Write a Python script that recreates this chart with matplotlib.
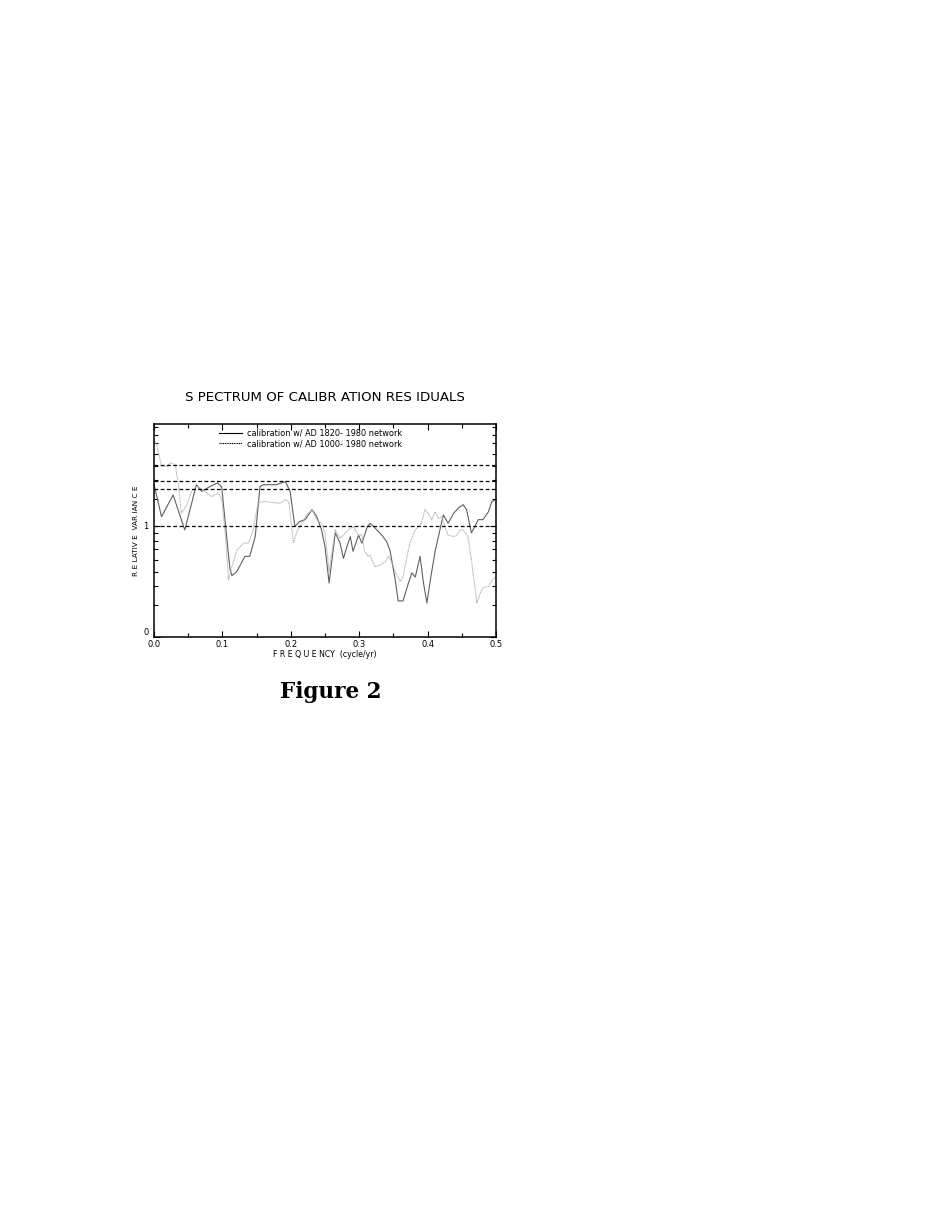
import matplotlib
matplotlib.use("Agg")
import matplotlib.pyplot as plt
from matplotlib.ticker import FixedLocator, NullFormatter

# spectrum of calibration residuals (log variance axis)
freq_1820 = [0.000, 0.011, 0.028, 0.045, 0.062, 0.070, 0.082, 0.093, 0.099, 0.111,
             0.114, 0.121, 0.133, 0.140, 0.148, 0.155, 0.160, 0.179, 0.192, 0.199,
             0.206, 0.213, 0.221, 0.231, 0.238, 0.245, 0.250, 0.256, 0.265, 0.272,
             0.277, 0.282, 0.287, 0.291, 0.299, 0.304, 0.312, 0.316, 0.323, 0.333,
             0.340, 0.345, 0.352, 0.357, 0.364, 0.372, 0.377, 0.382, 0.389, 0.394,
             0.399, 0.404, 0.411, 0.418, 0.423, 0.430, 0.438, 0.445, 0.452, 0.457,
             0.464, 0.469, 0.474, 0.481, 0.489, 0.494, 0.500]
var_1820 = [1.87, 1.15, 1.60, 0.94, 1.87, 1.69, 1.82, 1.92, 1.80, 0.52,
            0.47, 0.50, 0.63, 0.63, 0.85, 1.82, 1.87, 1.87, 1.96, 1.69,
            0.99, 1.07, 1.10, 1.28, 1.15, 0.94, 0.73, 0.42, 0.90, 0.77,
            0.61, 0.73, 0.85, 0.68, 0.87, 0.77, 0.99, 1.04, 0.97, 0.87,
            0.79, 0.69, 0.46, 0.32, 0.32, 0.42, 0.49, 0.46, 0.63, 0.42,
            0.31, 0.44, 0.68, 0.94, 1.18, 1.04, 1.21, 1.31, 1.38, 1.28,
            0.90, 0.99, 1.10, 1.10, 1.24, 1.45, 1.49]

freq_1000 = [0.000, 0.004, 0.011, 0.020, 0.023, 0.031, 0.036, 0.040, 0.048, 0.055,
             0.062, 0.072, 0.084, 0.094, 0.099, 0.104, 0.109, 0.114, 0.121, 0.131,
             0.138, 0.145, 0.152, 0.160, 0.184, 0.192, 0.197, 0.204, 0.209, 0.216,
             0.223, 0.231, 0.238, 0.245, 0.250, 0.256, 0.265, 0.272, 0.280, 0.284,
             0.291, 0.299, 0.304, 0.308, 0.313, 0.316, 0.323, 0.330, 0.338, 0.343,
             0.348, 0.355, 0.360, 0.364, 0.369, 0.374, 0.382, 0.386, 0.391, 0.396,
             0.401, 0.406, 0.411, 0.416, 0.421, 0.425, 0.430, 0.438, 0.443, 0.447,
             0.452, 0.459, 0.464, 0.469, 0.472, 0.477, 0.481, 0.489, 0.494, 0.500]
var_1000 = [3.70, 3.44, 2.47, 2.47, 2.60, 2.54, 1.82, 1.21, 1.38, 1.69,
            1.82, 1.73, 1.56, 1.65, 1.49, 0.90, 0.44, 0.54, 0.69, 0.77,
            0.77, 0.94, 1.41, 1.45, 1.41, 1.49, 1.45, 0.77, 0.92, 1.04,
            1.18, 1.28, 1.10, 1.04, 0.90, 0.50, 0.94, 0.83, 0.90, 0.94,
            0.99, 0.87, 0.87, 0.68, 0.63, 0.64, 0.54, 0.55, 0.58, 0.63,
            0.57, 0.47, 0.43, 0.46, 0.60, 0.77, 0.94, 0.99, 1.04, 1.28,
            1.21, 1.10, 1.24, 1.12, 1.15, 0.99, 0.87, 0.85, 0.87, 0.94,
            0.94, 0.85, 0.60, 0.40, 0.31, 0.36, 0.39, 0.40, 0.44, 0.46]

# horizontal reference levels
ref_levels = [2.54, 1.99, 1.76, 1.0]

x_major = [0.0, 0.1, 0.2, 0.3, 0.4, 0.5]
x_minor = [0.05, 0.15, 0.25, 0.35, 0.45]
y_min, y_max = 0.185, 4.7
y_minor = [0.3, 0.4, 0.5, 0.6, 0.7, 0.8, 0.9, 1.5, 2.0, 2.5, 3.0, 3.5, 4.0, 4.5]

plt.rcParams["font.family"] = "DejaVu Sans"

fig = plt.figure(figsize=(9.5, 12.3), dpi=100)
fig.patch.set_facecolor("white")
ax = fig.add_axes([0.1621, 0.4821, 0.36, 0.1732])

ax.plot(freq_1820, var_1820, color="#606060", linewidth=0.8,
        label="calibration w/ AD 1820- 1980 network")
ax.plot(freq_1000, var_1000, color="#b0b0b0", linewidth=0.8, linestyle=(0, (1, 0.6)),
        label="calibration w/ AD 1000- 1980 network")
for level in ref_levels:
    ax.axhline(level, color="black", linewidth=0.9, linestyle=(0, (3, 2)))

ax.set_yscale("log")
ax.set_xlim(0, 0.5)
ax.set_ylim(y_min, y_max)

ax.set_xticks(x_major)
ax.set_xticklabels([f"{v:.1f}" for v in x_major])
ax.xaxis.set_minor_locator(FixedLocator(x_minor))
ax.set_yticks([y_min, 1.0])
ax.set_yticklabels(["0", "1"])
ax.yaxis.set_minor_locator(FixedLocator(y_minor))
ax.yaxis.set_minor_formatter(NullFormatter())

ax.tick_params(which="both", direction="in", top=True, right=True,
               labelsize=6, width=0.8)
ax.tick_params(axis="x", pad=2)
ax.tick_params(axis="y", pad=4)
ax.tick_params(which="major", length=4)
ax.tick_params(which="minor", length=3)
# lift the bottom "0" so it sits beside the axis corner, clear of "0.0"
ax.get_yticklabels()[0].set_verticalalignment("bottom")
for sp in ax.spines.values():
    sp.set_linewidth(1.1)

ax.set_xlabel("F R E Q U E NCY  (cycle/yr)", fontsize=5.6, labelpad=1)
ax.set_ylabel("R E LATIV E  VAR IAN C E", fontsize=5.3, labelpad=3)

leg = ax.legend(loc="upper left", bbox_to_anchor=(0.17, 1.01), frameon=False,
                fontsize=5.9, handlelength=2.9, handletextpad=0.5,
                labelspacing=0.2, borderpad=0.3)
for line in leg.get_lines():
    line.set_color("black")

fig.text(0.3421, 0.6765, "S PECTRUM OF CALIBR ATION RES IDUALS",
         ha="center", va="center", fontsize=9.6)
fig.text(0.3484, 0.4374, "Figure 2", ha="center", va="center",
         fontsize=15.5, fontweight="bold", family="DejaVu Serif")

fig.savefig("out.png", dpi=100, facecolor="white")
